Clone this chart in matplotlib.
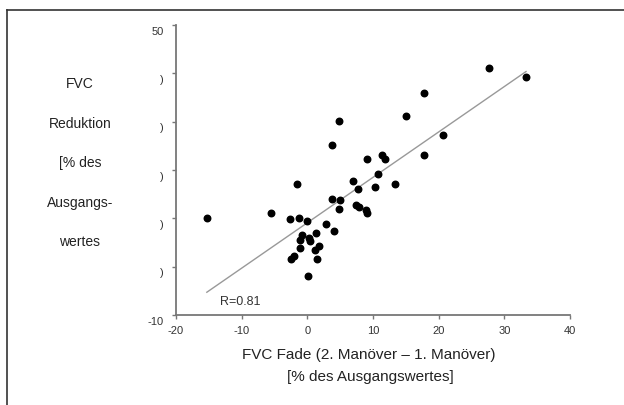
import numpy as np
import matplotlib.pyplot as plt
import matplotlib.transforms as mtransforms
from matplotlib.lines import Line2D

plt.rcParams['font.family'] = ['Liberation Sans', 'DejaVu Sans']

fvc_fade = [-15.3, -1.5, -5.6, -2.7, -1.2, -0.05, 3.75, 4.9, 4.8, 7.0,
            7.7, 10.35, 7.4, 7.8, 8.9, 9.1, 2.84, 4.05, -0.8, -1.1,
            1.3, 0.3, 0.4, -1.1, 1.8, 1.2, -2.1, -2.5, 1.55, 0.15,
            27.6, 33.3, 17.8, 15.0, 20.7, 17.7, 9.1, 11.4, 11.9, 10.8,
            13.4, 4.8, 3.7]
fvc_reduktion = [10.0, 17.2, 11.2, 9.9, 10.0, 9.5, 13.9, 13.8, 11.9, 17.8,
                 16.1, 16.4, 12.8, 12.3, 11.7, 11.2, 8.8, 7.4, 6.55, 5.5,
                 6.9, 5.9, 5.3, 3.9, 4.3, 3.4, 2.2, 1.65, 1.6, -1.9,
                 41.0, 39.2, 35.9, 31.2, 27.2, 23.2, 22.3, 23.0, 22.3, 19.1,
                 17.2, 30.1, 25.2]
x_ticks = [-20, -10, 0, 10, 20, 30, 40]
y_ticks = [-10, 0, 10, 20, 30, 40, 50]
y_ticklabels = ['-10', ')', ')', ')', ')', ')', '50']
r_text = 'R=0.81'

fig = plt.figure(figsize=(6.24, 4.05), dpi=100)
ax = fig.add_axes([0.282, 0.2222, 0.6315, 0.7161])

ax.scatter(fvc_fade, fvc_reduktion, s=22, color='black', zorder=3)

# Regressionsgerade
x = np.array(fvc_fade)
y = np.array(fvc_reduktion)
m, b = np.polyfit(x, y, 1)
xl = np.array([x.min(), x.max()])
ax.plot(xl, m * xl + b, color='#999999', lw=1.0, zorder=2)

ax.set_xlim(-20, 40)
ax.set_ylim(-10, 50)
ax.set_xticks(x_ticks)
ax.set_yticks(y_ticks)
ax.set_xticklabels([str(t) for t in x_ticks], fontsize=8, color='#333333')
ax.set_yticklabels(y_ticklabels, fontsize=8, color='#333333')
ax.tick_params(axis='both', direction='out', length=3, width=1, color='#777777')
ax.tick_params(axis='x', pad=5)
ax.tick_params(axis='y', pad=6)
# Beschriftung etwas unterhalb der Striche wie im Original
off = mtransforms.ScaledTranslation(0, -4 / 72, fig.dpi_scale_trans)
for lab in ax.get_yticklabels():
    lab.set_transform(lab.get_transform() + off)

for s in ['top', 'right']:
    ax.spines[s].set_visible(False)
for s in ['left', 'bottom']:
    ax.spines[s].set_color('#777777')
    ax.spines[s].set_linewidth(1.3)

ax.text(-13.3, -7.3, r_text, fontsize=9, color='#333333', va='center')

# Beschriftungen
ylab_lines = ['FVC', 'Reduktion', '[% des', 'Ausgangs-', 'wertes']
for i, t in enumerate(ylab_lines):
    fig.text(80 / 624, 1 - (84 + i * 39.5) / 405, t, fontsize=10, ha='center',
             va='center', color='#222222')

fig.text(369 / 624, 1 - 355 / 405, 'FVC Fade (2. Manöver – 1. Manöver)',
         fontsize=11, ha='center', va='center', color='#222222')
fig.text(370 / 624, 1 - 377 / 405, '[% des Ausgangswertes]',
         fontsize=11, ha='center', va='center', color='#222222')

# Rahmen
fig.add_artist(Line2D([7 / 624, 1], [1 - 10 / 405, 1 - 10 / 405],
                      color='#333333', lw=1.2, transform=fig.transFigure))
fig.add_artist(Line2D([7 / 624, 7 / 624], [1 - 10 / 405, 0],
                      color='#333333', lw=1.2, transform=fig.transFigure))

fig.savefig('out.png', dpi=100)
